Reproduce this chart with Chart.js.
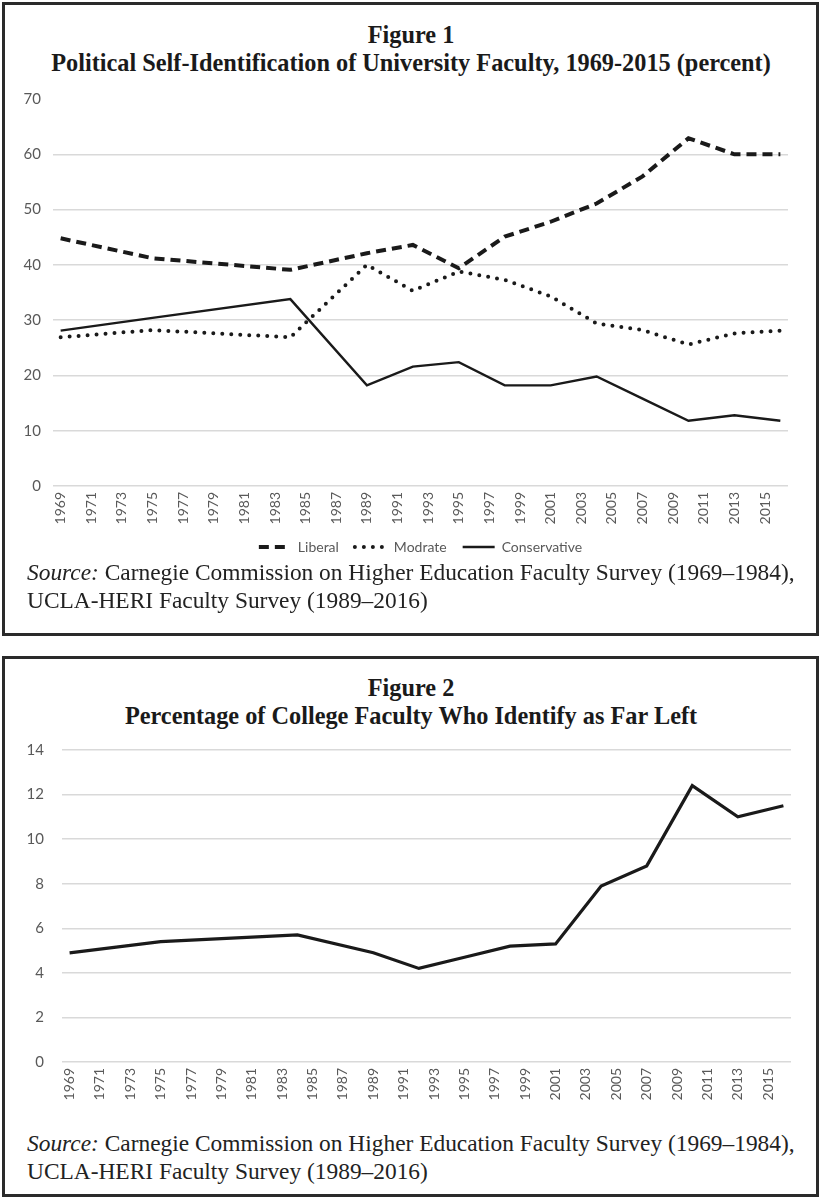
<!DOCTYPE html>
<html>
<head>
<meta charset="utf-8">
<script src="https://cdn.jsdelivr.net/npm/chart.js@4.4.1/dist/chart.umd.min.js"></script>
<style>
  body { margin: 0; background: #fff; width: 822px; height: 1200px; position: relative; overflow: hidden; }
  .box { position: absolute; left: 2px; width: 817px; border: 3px solid #2a2a2a; box-sizing: border-box; }
  .title { position: absolute; left: 0; width: 822px; text-align: center; font-family: "Liberation Serif", serif; font-weight: bold; font-size: 24.3px; line-height: 28px; color: #1a1a1a; white-space: nowrap; }
  .source { position: absolute; left: 27px; font-family: "Liberation Serif", serif; font-size: 23.4px; line-height: 28px; color: #222; white-space: nowrap; }
  canvas { position: absolute; left: 0; }
</style>
</head>
<body>
<div class="box" style="top:2px;height:634px"></div>
<div class="box" style="top:656px;height:541px"></div>

<div class="title" style="top:21px">Figure 1<br>Political Self-Identification of University Faculty, 1969-2015 (percent)</div>
<canvas id="fig1" width="822" height="479" style="top:85px"></canvas>
<div class="source" style="top:558px"><i>Source:</i> Carnegie Commission on Higher Education Faculty Survey (1969–1984),<br>UCLA-HERI Faculty Survey (1989–2016)</div>

<div class="title" style="top:674px">Figure 2<br>Percentage of College Faculty Who Identify as Far Left</div>
<canvas id="fig2" width="822" height="373" style="top:735px"></canvas>
<div class="source" style="top:1129px"><i>Source:</i> Carnegie Commission on Higher Education Faculty Survey (1969–1984),<br>UCLA-HERI Faculty Survey (1989–2016)</div>

<script>
// survey years that have values; the axis itself runs every year 1969-2016
const surveyYears = [1969, 1975, 1984, 1989, 1992, 1995, 1998, 2001, 2004, 2007, 2010, 2013, 2016];
const liberal      = [44.8, 41.2, 39.1, 42.1, 43.6, 39.4, 45.1, 47.8, 51.1, 56.0, 62.9, 60.0, 60.0];
const moderate     = [26.9, 28.2, 26.9, 40.0, 35.3, 38.8, 37.3, 34.3, 29.4, 28.2, 25.6, 27.6, 28.1];
const conservative = [28.1, 30.4, 33.8, 18.2, 21.6, 22.4, 18.2, 18.2, 19.8, 15.8, 11.8, 12.8, 11.8];
const farLeft      = [4.9, 5.4, 5.7, 4.9, 4.2, 4.7, 5.2, 5.3, 7.9, 8.8, 12.4, 11.0, 11.5];

let axisYears = [];
for (let y = 1969; y <= 2016; y++) axisYears.push(String(y));

const tickColor = '#595959';
const gridColor = '#d9d9d9';
const clear = 'rgba(0,0,0,0)';

function points(values) {
    return surveyYears.map((yr, i) => ({x: String(yr), y: values[i]}));
}

function xScale(height) {
    return {
        type: 'category',
        labels: axisYears,
        offset: true,
        grid: {display: false, drawTicks: false},
        border: {display: false},
        ticks: {
            autoSkip: false,
            maxRotation: 90,
            minRotation: 90,
            padding: 6,
            color: tickColor,
            font: {family: 'Lato', size: 14},
            callback: (val, i) => i % 2 === 0 ? axisYears[i] : ''
        },
        afterFit: scale => { scale.height = height; }
    };
}

// an invisible tick mark gives the gap between labels and plot
// (ticks.padding would also push the chart area down)
function yScale(max, step, width, gap, hideTop) {
    return {
        min: 0,
        max: max,
        grid: {
            drawTicks: true,
            tickLength: gap,
            tickColor: clear,
            lineWidth: 1.5,
            color: ctx => (hideTop && ctx.index === ctx.scale.ticks.length - 1) ? clear : gridColor
        },
        border: {display: false},
        ticks: {stepSize: step, padding: 0, color: tickColor, font: {family: 'Lato', size: 15}},
        afterFit: scale => { scale.width = width; }
    };
}

function legendLabels(chart) {
    return Chart.defaults.plugins.legend.labels.generateLabels(chart).map(item => {
        const ds = chart.data.datasets[item.datasetIndex];
        item.lineDash = ds.borderDash || [];
        item.lineWidth = ds.borderWidth;
        item.lineCap = ds.borderCapStyle || 'butt';
        item.strokeStyle = ds.borderColor;
        return item;
    });
}

new Chart(document.getElementById('fig1'), {
    type: 'line',
    data: {
        datasets: [
            {
                label: 'Liberal',
                data: points(liberal),
                borderColor: '#1a1a1a',
                borderWidth: 4,
                borderDash: [10, 6]
            },
            {
                label: 'Modrate',
                data: points(moderate),
                borderColor: '#1a1a1a',
                borderWidth: 4,
                borderDash: [0, 9],
                borderCapStyle: 'round'
            },
            {
                label: 'Conservative',
                data: points(conservative),
                borderColor: '#1a1a1a',
                borderWidth: 2.4
            }
        ]
    },
    options: {
        responsive: false,
        animation: false,
        spanGaps: true,
        elements: {point: {radius: 0}, line: {tension: 0}},
        layout: {padding: {top: 14, right: 34, left: 0, bottom: 0}},
        scales: {
            x: xScale(38),
            y: yScale(70, 10, 53, 12, true)
        },
        plugins: {
            legend: {
                position: 'bottom',
                fullSize: false,   // centre under the plot, like the original
                labels: {
                    usePointStyle: true,
                    pointStyle: 'line',
                    pointStyleWidth: 32,
                    boxWidth: 32,
                    padding: 16,
                    color: tickColor,
                    font: {family: 'Lato', size: 14},
                    generateLabels: legendLabels
                }
            },
            tooltip: {enabled: false}
        }
    }
});

new Chart(document.getElementById('fig2'), {
    type: 'line',
    data: {
        datasets: [
            {
                label: 'Far Left',
                data: points(farLeft),
                borderColor: '#1a1a1a',
                borderWidth: 3.2
            }
        ]
    },
    options: {
        responsive: false,
        animation: false,
        spanGaps: true,
        elements: {point: {radius: 0}, line: {tension: 0}},
        layout: {padding: {top: 15, right: 31, left: 0, bottom: 0}},
        scales: {
            x: xScale(46),
            y: yScale(14, 2, 62, 18, false)
        },
        plugins: {
            legend: {display: false},
            tooltip: {enabled: false}
        }
    }
});
</script>
</body>
</html>
